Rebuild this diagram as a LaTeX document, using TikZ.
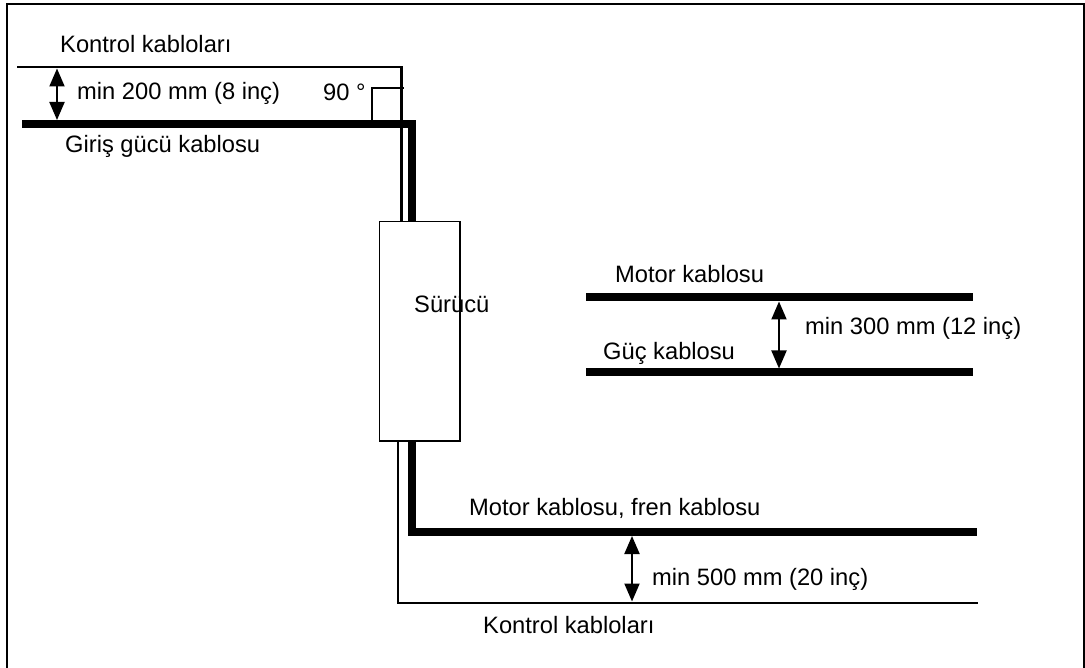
\documentclass[tikz,border=0pt]{standalone}
\usepackage{fontspec}
\setmainfont{Liberation Sans}
\usetikzlibrary{arrows.meta}
\begin{document}
\begin{tikzpicture}[x=1pt,y=-1pt,
  thincable/.style={line width=2.5pt},
  thickcable/.style={line width=8pt},
  gap/.style={line width=2pt,{Triangle[length=18pt,width=15pt]}-{Triangle[length=18pt,width=15pt]}},
  lbl/.style={anchor=base west,inner sep=0pt,font=\fontsize{23.7}{28}\selectfont}]
\useasboundingbox (0,0) rectangle (1085,668);
% frame
\coordinate (f1) at (7,668);
\coordinate (f2) at (7,4);
\coordinate (f3) at (1084,4);
\coordinate (f4) at (1084,668);
\draw[line width=2pt] (f1) -- (f2) -- (f3) -- (f4);
% drive
\node[draw,line width=1.5pt,minimum width=80.5pt,minimum height=219pt,anchor=north west,inner sep=0pt] (drive) at (378.5,221) {};
\node[lbl] (drivelbl) at (414,313) {Sürücü};
% top cables
\coordinate (kt1) at (17,67);
\coordinate (kt2) at (401.5,67);
\draw[thincable] (kt1) -- (kt2) -- (kt2 |- drive.north);
\coordinate (gi1) at (22,124);
\coordinate (gi2) at (412,124);
\draw[thickcable] (gi1) -- (gi2) -- (gi2 |- drive.north);
% 90 degree mark
\coordinate (sq1) at (372,120);
\coordinate (sq2) at (372,88);
\coordinate (sq3) at (404,88);
\draw[thincable] (sq1) -- (sq2) -- (sq3);
% bottom cables
\coordinate (mb1) at (412,440);
\coordinate (mb2) at (412,532);
\coordinate (mb3) at (977,532);
\draw[thickcable] (mb1) -- (mb2) -- (mb3);
\coordinate (kb1) at (398,440);
\coordinate (kb2) at (398,603);
\coordinate (kb3) at (978,603);
\draw[thincable] (kb1) -- (kb2) -- (kb3);
% right cables
\coordinate (mr1) at (586,297.5);
\coordinate (mr2) at (973,297.5);
\coordinate (gr1) at (586,372.5);
\coordinate (gr2) at (973,372.5);
\draw[thickcable] (mr1) -- (mr2);
\draw[thickcable] (gr1) -- (gr2);
% arrows
\coordinate (a1t) at (57,68.5);
\coordinate (a1b) at (57,120);
\draw[gap] (a1t) -- (a1b);
\coordinate (a2t) at (779,301.5);
\coordinate (a2b) at (779,368.5);
\draw[gap] (a2t) -- (a2b);
\coordinate (a3t) at (632,536);
\coordinate (a3b) at (632,601.5);
\draw[gap] (a3t) -- (a3b);
% labels
\node[lbl] (l1) at (60,53) {Kontrol kabloları};
\node[lbl] (l2) at (77,100) {min 200 mm (8 inç)};
\node[lbl] (l3) at (323,101) {90 °};
\node[lbl] (l4) at (65,153) {Giriş gücü kablosu};
\node[lbl] (l5) at (615,283) {Motor kablosu};
\node[lbl] (l6) at (603,360) {Güç kablosu};
\node[lbl] (l7) at (805,335) {min 300 mm (12 inç)};
\node[lbl] (l8) at (469,515) {Motor kablosu, fren kablosu};
\node[lbl] (l9) at (652,585) {min 500 mm (20 inç)};
\node[lbl] (l10) at (483,633) {Kontrol kabloları};
\end{tikzpicture}
\end{document}
